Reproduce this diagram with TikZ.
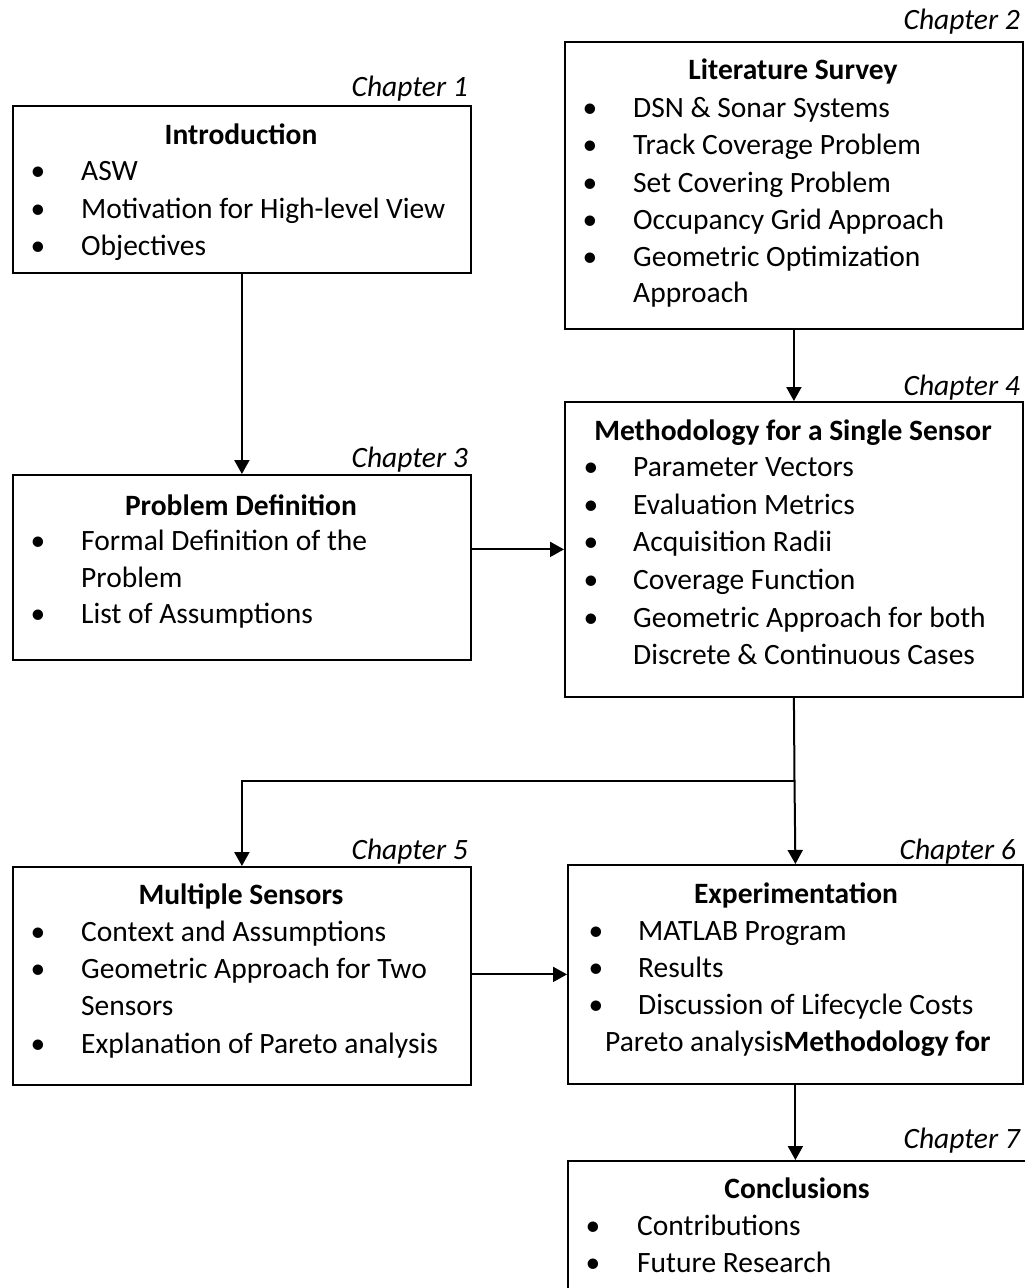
\documentclass[tikz,border=0pt]{standalone}
\usepackage{fontspec}
\setmainfont{Carlito}
\usetikzlibrary{arrows.meta}
\tikzset{
  box/.style={draw, line width=1.8pt, inner sep=0pt, anchor=north west},
  txt/.style={inner sep=0pt, anchor=base west, font=\fontsize{29.5}{35}\selectfont},
  ttl/.style={inner sep=0pt, anchor=base, font=\fontsize{29.5}{35}\selectfont\bfseries},
  bul/.style={inner sep=0pt, anchor=base, font=\fontsize{29.5}{35}\selectfont},
  chap/.style={inner sep=0pt, anchor=base east, font=\fontsize{29.5}{35}\selectfont\itshape},
  conn/.style={line width=2pt},
  arr/.style={line width=2pt, -{Triangle[length=14pt,width=15pt]}}
}
\begin{document}
\begin{tikzpicture}[x=1pt,y=-1pt]
\useasboundingbox (0,0) rectangle (1025,1288);
\clip (0,0) rectangle (1025,1288);
\fill[white] (0,0) rectangle (1025,1288);

% boxes
\node[box, minimum width=458pt, minimum height=167pt] (intro) at (12,105) {};
\node[box, minimum width=458pt, minimum height=287pt] (lit) at (564,41) {};
\node[box, minimum width=458pt, minimum height=185pt] (prob) at (12,474) {};
\node[box, minimum width=458pt, minimum height=295pt] (meth) at (564,401) {};
\node[box, minimum width=458pt, minimum height=218pt] (multi) at (12,866) {};
\node[box, minimum width=455pt, minimum height=219pt] (exp) at (567,864) {};
\node[box, minimum width=470pt, minimum height=160pt] (concl) at (567,1160) {};

% chapter labels
\node[chap] (c1) at (468,96) {Chapter 1};
\node[chap] (c2) at (1020,29) {Chapter 2};
\node[chap] (c3) at (468,467) {Chapter 3};
\node[chap] (c4) at (1020,395) {Chapter 4};
\node[chap] (c5) at (468,859) {Chapter 5};
\node[chap] (c6) at (1016,859) {Chapter 6};
\node[chap] (c7) at (1020,1148) {Chapter 7};

% Introduction
\node[ttl] (t1) at (241,144) {Introduction};
\node[bul] (b1a) at (38,180) {\textbullet};
\node[txt] (i1a) at (81,180) {ASW};
\node[bul] (b1b) at (38,218) {\textbullet};
\node[txt] (i1b) at (81,218) {Motivation for High-level View};
\node[bul] (b1c) at (38,255) {\textbullet};
\node[txt] (i1c) at (81,255) {Objectives};

% Literature Survey
\node[ttl] (t2) at (793,79) {Literature Survey};
\node[bul] (b2a) at (590,117) {\textbullet};
\node[txt] (i2a) at (633,117) {DSN \& Sonar Systems};
\node[bul] (b2b) at (590,154) {\textbullet};
\node[txt] (i2b) at (633,154) {Track Coverage Problem};
\node[bul] (b2c) at (590,192) {\textbullet};
\node[txt] (i2c) at (633,192) {Set Covering Problem};
\node[bul] (b2d) at (590,229) {\textbullet};
\node[txt] (i2d) at (633,229) {Occupancy Grid Approach};
\node[bul] (b2e) at (590,266) {\textbullet};
\node[txt] (i2e) at (633,266) {Geometric Optimization};
\node[txt] (i2f) at (633,302) {Approach};

% Problem Definition
\node[ttl] (t3) at (241,515) {Problem Definition};
\node[bul] (b3a) at (38,550) {\textbullet};
\node[txt] (i3a) at (81,550) {Formal Definition of the};
\node[txt] (i3b) at (81,587) {Problem};
\node[bul] (b3c) at (38,623) {\textbullet};
\node[txt] (i3c) at (81,623) {List of Assumptions};

% Methodology
\node[ttl] (t4) at (793,440) {Methodology for a Single Sensor};
\node[bul] (b4a) at (591,476) {\textbullet};
\node[txt] (i4a) at (633,476) {Parameter Vectors};
\node[bul] (b4b) at (591,514) {\textbullet};
\node[txt] (i4b) at (633,514) {Evaluation Metrics};
\node[bul] (b4c) at (591,551) {\textbullet};
\node[txt] (i4c) at (633,551) {Acquisition Radii};
\node[bul] (b4d) at (591,589) {\textbullet};
\node[txt] (i4d) at (633,589) {Coverage Function};
\node[bul] (b4e) at (591,627) {\textbullet};
\node[txt] (i4e) at (633,627) {Geometric Approach for both};
\node[txt] (i4f) at (633,664) {Discrete \& Continuous Cases};

% Multiple Sensors
\node[ttl] (t5) at (241,904) {Multiple Sensors};
\node[bul] (b5a) at (38,941) {\textbullet};
\node[txt] (i5a) at (81,941) {Context and Assumptions};
\node[bul] (b5b) at (38,978) {\textbullet};
\node[txt] (i5b) at (81,978) {Geometric Approach for Two};
\node[txt] (i5c) at (81,1015) {Sensors};
\node[bul] (b5d) at (38,1053) {\textbullet};
\node[txt] (i5d) at (81,1053) {Explanation of Pareto analysis};

% Experimentation
\node[ttl] (t6) at (796,903) {Experimentation};
\node[bul] (b6a) at (596,940) {\textbullet};
\node[txt] (i6a) at (638,940) {MATLAB Program};
\node[bul] (b6b) at (596,977) {\textbullet};
\node[txt] (i6b) at (638,977) {Results};
\node[bul] (b6c) at (596,1014) {\textbullet};
\node[txt] (i6c) at (638,1014) {Discussion of Lifecycle Costs};
\node[txt] (i6d) at (605,1051) {Pareto analysis\textbf{Methodology for}};

% Conclusions
\node[ttl] (t7) at (797,1198) {Conclusions};
\node[bul] (b7a) at (593,1235) {\textbullet};
\node[txt] (i7a) at (637,1235) {Contributions};
\node[bul] (b7b) at (593,1272) {\textbullet};
\node[txt] (i7b) at (637,1272) {Future Research};

% connectors
\draw[arr] (intro.south) -- (prob.north);
\draw[arr] (lit.south) -- (meth.north);
\draw[arr] (prob.east |- meth.west) -- (meth.west);
\coordinate (j) at (794.5,781);
\draw[conn] (meth.south) -- (j);
\draw[arr] (j) -| (multi.north);
\draw[arr] (j) -- (exp.north);
\draw[arr] (multi.east |- exp.west) -- (exp.west);
\draw[arr] (exp.south |- exp.south) -- (exp.south |- concl.north);
\end{tikzpicture}
\end{document}
